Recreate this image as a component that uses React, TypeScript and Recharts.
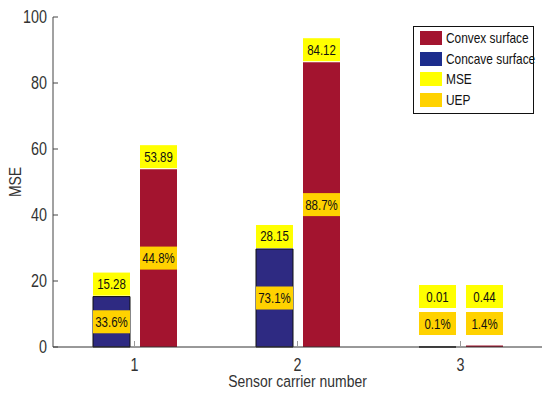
import React from 'react';
import { BarChart, Bar, XAxis, YAxis, LabelList } from 'recharts';

const categories = ['1', '2', '3'];
const concaveValues = [15.28, 29.7, 0.01];
const convexValues = [53.89, 86.3, 0.44];
const concaveMse = ['15.28', '28.15', '0.01'];
const convexMse = ['53.89', '84.12', '0.44'];
const concaveUep = ['33.6%', '73.1%', '0.1%'];
const convexUep = ['44.8%', '88.7%', '1.4%'];
const yTicks = [0, 20, 40, 60, 80, 100];

const RED = '#A3142F';
const BLUE = '#2E2A82';
const YELLOW = '#FFFF00';
const GOLD = '#FFD200';
const FONT = "'Liberation Sans', Arial, sans-serif";
const SQ = 0.82; // horizontal squeeze, the reference text is condensed

const legendItems = [
  { name: 'Convex surface', color: RED },
  { name: 'Concave surface', color: '#1C2C8C' },
  { name: 'MSE', color: YELLOW },
  { name: 'UEP', color: GOLD },
];

const data = categories.map((c, i) => ({
  name: c,
  concave: concaveValues[i],
  convex: convexValues[i],
}));

const BOX_H = 23;

// condensed text helper
const CText = ({ x, y, size, anchor = 'middle', rotate = 0, fill = '#333', children }: any) => (
  <text
    transform={`translate(${x} ${y}) rotate(${rotate}) scale(${SQ} 1)`}
    textAnchor={anchor}
    fontFamily={FONT}
    fontSize={size}
    fill={fill}
  >
    {children}
  </text>
);

const makeLabel = (mse: string[], uep: string[]) => (props: any) => {
  const x = Number(props.x);
  const y = Number(props.y);
  const w = Number(props.width);
  const h = Number(props.height);
  const i = props.index;
  const bottom = y + h;
  let uepTop: number;
  let mseTop: number;
  if (h < 40) {
    // tiny bars: stack both boxes just above the axis
    uepTop = bottom - 12 - BOX_H;
    mseTop = uepTop - 4 - BOX_H;
  } else {
    uepTop = y + h / 2 - BOX_H / 2;
    mseTop = y - 1 - BOX_H;
  }
  return (
    <g>
      <rect x={x} y={mseTop} width={w} height={BOX_H} fill={YELLOW} />
      <CText x={x + w / 2} y={mseTop + BOX_H / 2 + 5} size={14} fill="#111">
        {mse[i]}
      </CText>
      <rect x={x} y={uepTop} width={w} height={BOX_H} fill={GOLD} />
      <CText x={x + w / 2} y={uepTop + BOX_H / 2 + 5} size={14} fill="#111">
        {uep[i]}
      </CText>
    </g>
  );
};

const YTick = (props: any) => {
  const { x, y, payload } = props;
  return (
    <g>
      <line x1={x + 6} y1={y} x2={x + 11} y2={y} stroke="#444" />
      <CText x={x} y={y + 6} size={17.5} anchor="end">
        {payload.value}
      </CText>
    </g>
  );
};

const XTick = (props: any) => {
  const { x, y, payload } = props;
  return (
    <g>
      <line x1={x} y1={y - 12} x2={x} y2={y - 18} stroke="#999" />
      <CText x={x} y={y + 12} size={17.5}>
        {payload.value}
      </CText>
    </g>
  );
};

const YLabel = (props: any) => {
  const vb = props.viewBox || {};
  return (
    <CText x={21} y={vb.y + vb.height / 2} size={17} rotate={-90}>
      MSE
    </CText>
  );
};

const XLabel = (props: any) => {
  const vb = props.viewBox || {};
  return (
    <CText x={vb.x + vb.width / 2} y={387} size={17}>
      Sensor carrier number
    </CText>
  );
};

const LegendBox = () => (
  <div
    style={{
      position: 'absolute',
      left: 413,
      top: 26,
      width: 119,
      height: 85,
      border: '1px solid #111',
      background: '#fff',
      fontFamily: FONT,
      fontSize: 14.5,
      color: '#111',
      paddingTop: 1,
    }}
  >
    {legendItems.map((it) => (
      <div key={it.name} style={{ display: 'flex', alignItems: 'center', height: 20.5, marginLeft: 6 }}>
        <div style={{ width: 22, height: 14, background: it.color, marginRight: 4, flexShrink: 0 }} />
        <span style={{ display: 'inline-block', whiteSpace: 'nowrap', transform: `scaleX(${SQ})`, transformOrigin: 'left center' }}>
          {it.name}
        </span>
      </div>
    ))}
  </div>
);

export default function App() {
  return (
    <div style={{ position: 'absolute', left: 0, top: 0, width: 550, height: 395, background: '#fff' }}>
      <BarChart
        width={550}
        height={395}
        data={data}
        margin={{ top: 17, right: 8, left: 0, bottom: 0 }}
        barSize={37}
        barGap={10}
      >
        <XAxis
          dataKey="name"
          height={48}
          stroke="#333"
          tickSize={0}
          tickMargin={12}
          tick={(p: any) => <XTick {...p} />}
          label={(p: any) => <XLabel {...p} />}
        />
        <YAxis
          width={53}
          domain={[0, 100]}
          ticks={yTicks}
          stroke="#444"
          tickSize={0}
          tickMargin={6}
          tick={(p: any) => <YTick {...p} />}
          label={(p: any) => <YLabel {...p} />}
        />
        <Bar dataKey="concave" fill={BLUE} stroke="#111" strokeWidth={1} isAnimationActive={false}>
          <LabelList dataKey="concave" content={makeLabel(concaveMse, concaveUep)} />
        </Bar>
        <Bar dataKey="convex" fill={RED} isAnimationActive={false}>
          <LabelList dataKey="convex" content={makeLabel(convexMse, convexUep)} />
        </Bar>
      </BarChart>
      <LegendBox />
    </div>
  );
}
